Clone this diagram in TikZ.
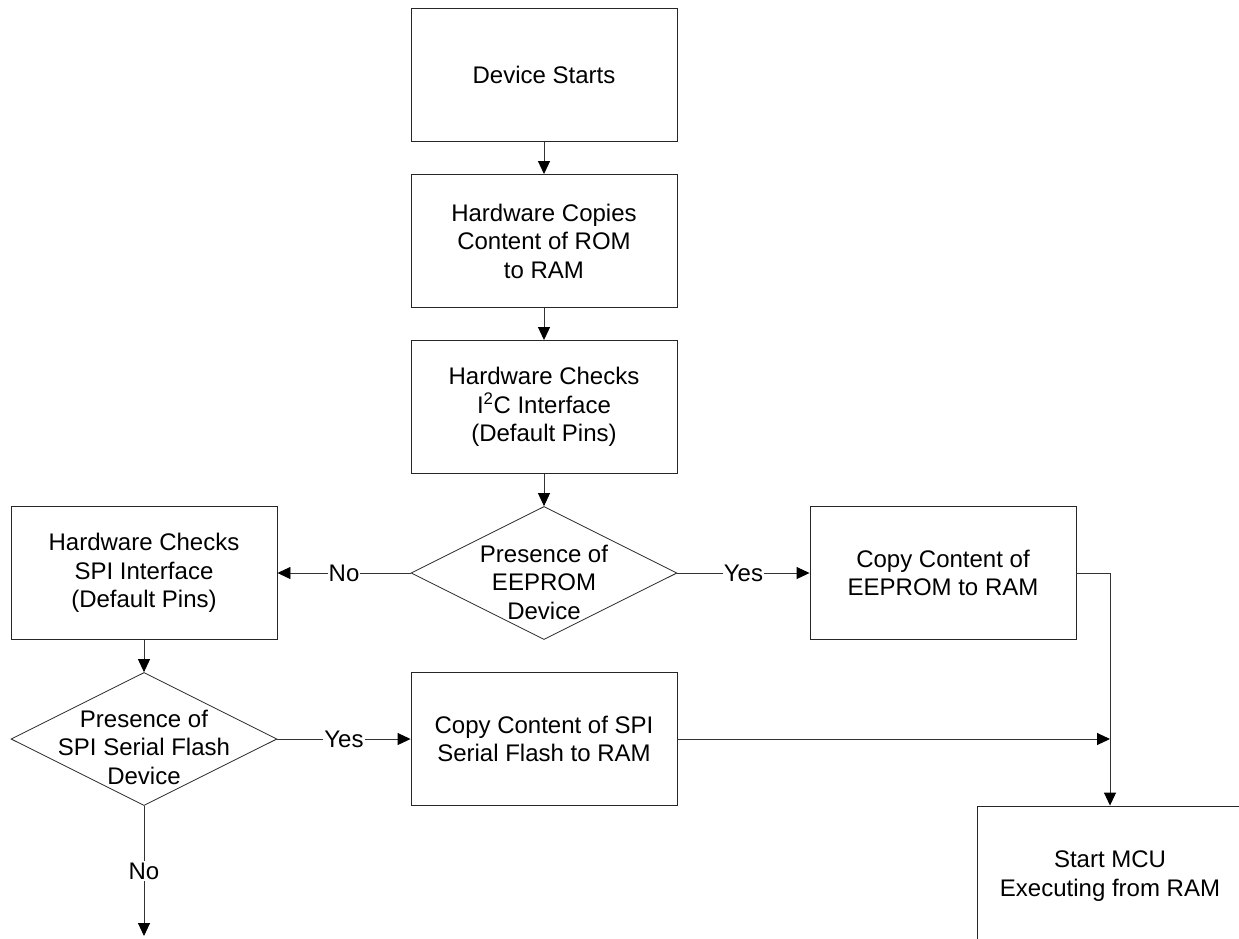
\documentclass[tikz,border=0pt]{standalone}
\usepackage{fontspec}
\setmainfont{Liberation Sans}
\usetikzlibrary{shapes.geometric, arrows.meta}

\begin{document}
\begin{tikzpicture}[x=1pt, y=-1pt,
	txt/.style={align=center, inner sep=0pt, font=\fontsize{24}{28.5}\selectfont},
	box/.style={txt, draw=black!85, line width=0.9pt, minimum width=266pt, minimum height=133pt},
	decision/.style={draw=black!85, diamond, line width=0.8pt, inner sep=0pt, minimum width=266pt, minimum height=133pt},
	conn/.style={draw=black!80, line width=0.9pt, -{Triangle[length=13pt, width=12pt, color=black]}},
	lbl/.style={txt, fill=white, inner xsep=1pt, inner ysep=2pt}]

% page size
	\useasboundingbox (0,0) rectangle (1239,938);
	\clip (0,0) rectangle (1239,938);

% draw boxes
	\node[box] (start) at (544,75) {Device Starts};
	\node[box] (romcopy) at (544,241) {Hardware Copies\\Content of ROM\\to RAM};
	\node[box] (i2ccheck) at (544,407) {Hardware Checks\\I\textsuperscript{2}C Interface\\(Default Pins)};
	\node[box] (spicheck) at (144,573) {Hardware Checks\\SPI Interface\\(Default Pins)};
	\node[box] (eecopy) at (943,573) {Copy Content of\\EEPROM to RAM};
	\node[box] (flashcopy) at (544,739) {Copy Content of SPI\\Serial Flash to RAM};
	\node[box, minimum height=140pt] (mcu) at (1110,876) {Start MCU\\Executing from RAM};

% draw decisions
	\node[decision, label={[txt, yshift=-9pt]center:Presence of\\EEPROM\\Device}] (eeq) at (544,573) {};
	\node[decision, label={[txt, yshift=-8pt]center:Presence of\\SPI Serial Flash\\Device}] (spiq) at (144,739) {};

	\coordinate (merge) at (1110,739);
	\coordinate (noend) at (144,936);

% draw connectors
	\draw[conn] (start) -- (romcopy);
	\draw[conn] (romcopy) -- (i2ccheck);
	\draw[conn] (i2ccheck) -- (eeq);
	\draw[conn] (eeq) -- node[lbl]{No} (spicheck);
	\draw[conn] (eeq) -- node[lbl]{Yes} (eecopy);
	\draw[conn] (spicheck) -- (spiq);
	\draw[conn] (spiq) -- node[lbl]{Yes} (flashcopy);
	\draw[conn] (spiq) -- node[lbl]{No} (noend);
	\draw[conn] (eecopy.east) -| (mcu.north);
	\draw[conn] (flashcopy) -- (merge);

\end{tikzpicture}
\end{document}
